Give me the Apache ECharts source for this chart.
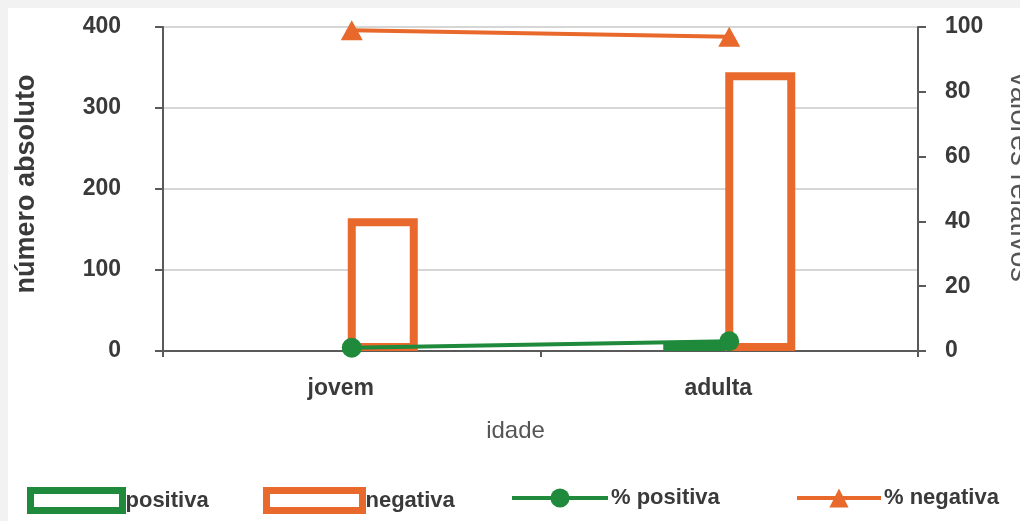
<!DOCTYPE html>
<html>
<head>
<meta charset="utf-8">
<script src="https://cdn.jsdelivr.net/npm/echarts@6/dist/echarts.min.js"></script>
<style>
  html, body { margin: 0; padding: 0; background: #f2f2f2; width: 1020px; height: 521px; overflow: hidden; }
  #chart { position: absolute; left: 8px; top: 8px; width: 1012px; height: 513px; background: #fff; }
</style>
</head>
<body>
<div id="chart"></div>
<script>
// Age groups and counts
const categories = ['jovem', 'adulta'];
const positiva = [0, 10];          // absolute count, positive
const negativa = [164, 344];       // absolute count, negative
const pctPositiva = [1, 3];        // relative value (%)
const pctNegativa = [99, 97];      // relative value (%)
const leftTicks = [0, 100, 200, 300, 400];
const rightTicks = [0, 20, 40, 60, 80, 100];

const GREEN = '#1f8a3b';
const ORANGE = '#e8692b';
const FONT = "'Liberation Sans', Arial, sans-serif";
const TXT = '#3a3a3a';

const chart = echarts.init(document.getElementById('chart'), null, { renderer: 'canvas' });

function barData(vals) {
  // an empty bar gets no outline so that nothing is drawn for it
  return vals.map(v => v === 0 ? { value: 0, itemStyle: { borderWidth: 0 } } : v);
}

function legendAt(name, left, w, h, extra) {
  return Object.assign({
    data: [name], left: left, top: 474,
    itemWidth: w, itemHeight: h, itemGap: 0,
    textStyle: { fontFamily: FONT, fontWeight: 'bold', fontSize: 22, color: TXT, padding: [0, 0, 0, -2] }
  }, extra || {});
}

chart.setOption({
  backgroundColor: '#fff',
  animation: false,
  grid: {
    left: 155, right: 102, top: 19, bottom: 170,
    containLabel: false, outerBoundsMode: 'none',
    show: true, borderColor: '#5a5a5a', borderWidth: 2, backgroundColor: 'transparent'
  },
  legend: [
    legendAt('positiva', 14, 92, 20, { icon: 'rect', itemStyle: { borderWidth: 7 } }),
    legendAt('negativa', 250, 96, 20, { icon: 'rect', itemStyle: { borderWidth: 7 } }),
    legendAt('% positiva', 497, 96, 24, { lineStyle: { width: 4 } }),
    legendAt('% negativa', 782, 84, 24, { lineStyle: { width: 4 } })
  ],
  xAxis: {
    type: 'category', data: categories,
    name: 'idade', nameLocation: 'middle', nameGap: 68,
    nameTextStyle: { fontFamily: FONT, fontSize: 24, color: '#555', padding: [0, 50, 0, 0] },
    axisLine: { lineStyle: { color: '#5a5a5a', width: 2 } },
    axisTick: { show: true, length: 6, lineStyle: { color: '#5a5a5a', width: 2 } },
    axisLabel: { fontFamily: FONT, fontWeight: 'bold', fontSize: 23, color: TXT, margin: 26, padding: [0, 22, 0, 0] }
  },
  yAxis: [
    {
      type: 'value', min: 0, max: 400, interval: 100,
      name: 'número absoluto', nameLocation: 'middle', nameGap: 123, nameRotate: 90,
      nameTextStyle: { fontFamily: FONT, fontWeight: 'bold', fontSize: 27, color: TXT, padding: [0, 0, 0, 10] },
      axisLine: { show: true, lineStyle: { color: '#5a5a5a', width: 2 } },
      axisTick: { show: true, length: 8, lineStyle: { color: '#5a5a5a', width: 2 } },
      axisLabel: { fontFamily: FONT, fontWeight: 'bold', fontSize: 23, color: TXT, margin: 42,
        formatter: v => leftTicks.includes(v) ? String(v) : '' },
      splitLine: { show: true, lineStyle: { color: '#d6d6d6', width: 2 } }
    },
    {
      type: 'value', min: 0, max: 100, interval: 20, position: 'right',
      name: 'valores relativos', nameLocation: 'middle', nameGap: 86, nameRotate: -90,
      nameTextStyle: { fontFamily: FONT, fontSize: 29, color: '#555', padding: [0, 24, 0, 0] },
      axisLine: { show: true, lineStyle: { color: '#5a5a5a', width: 2 } },
      axisTick: { show: true, length: 8, lineStyle: { color: '#5a5a5a', width: 2 } },
      axisLabel: { fontFamily: FONT, fontWeight: 'bold', fontSize: 23, color: TXT, margin: 27,
        formatter: v => rightTicks.includes(v) ? String(v) : '' },
      splitLine: { show: false }
    }
  ],
  series: [
    {
      name: 'positiva', type: 'bar', yAxisIndex: 0, data: barData(positiva),
      barWidth: 70, barGap: '-11.4%',
      itemStyle: { color: '#fff', borderColor: GREEN, borderWidth: 8 }
    },
    {
      name: 'negativa', type: 'bar', yAxisIndex: 0, data: barData(negativa),
      barWidth: 70, barGap: '-11.4%',
      itemStyle: { color: '#fff', borderColor: ORANGE, borderWidth: 8 }
    },
    {
      name: '% positiva', type: 'line', yAxisIndex: 1, data: pctPositiva,
      symbol: 'circle', symbolSize: 20,
      lineStyle: { color: GREEN, width: 4 },
      itemStyle: { color: GREEN }, z: 5
    },
    {
      name: '% negativa', type: 'line', yAxisIndex: 1, data: pctNegativa,
      symbol: 'triangle', symbolSize: [22, 20],
      lineStyle: { color: ORANGE, width: 4 },
      itemStyle: { color: ORANGE }, z: 5
    }
  ]
});
</script>
</body>
</html>
